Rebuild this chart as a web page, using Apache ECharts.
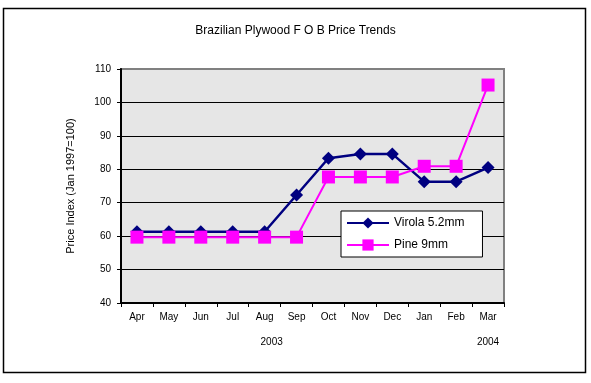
<!DOCTYPE html>
<html><head><meta charset="utf-8">
<script src="https://cdn.jsdelivr.net/npm/echarts@6/dist/echarts.min.js"></script>
<style>html,body{margin:0;padding:0;background:#fff}#c{width:591px;height:383px}</style>
</head><body><div id="c"></div>
<script>
const months = ['Apr','May','Jun','Jul','Aug','Sep','Oct','Nov','Dec','Jan','Feb','Mar'];
const yearLabels = ['','','','','2003','','','','','','','2004'];
const virola = [61.3,61.3,61.3,61.3,61.3,72.3,83.3,84.6,84.6,76.3,76.3,80.5];
const pine = [59.7,59.7,59.7,59.7,59.7,59.7,77.7,77.7,77.7,80.9,80.9,105.2];
const yTicks = {min:40, max:110, interval:10};

const font = 'Liberation Sans, Arial, sans-serif';
const chart = echarts.init(document.getElementById('c'), null, {renderer:'canvas'});
chart.setOption({
  animation:false,
  backgroundColor:'#fff',
  title:{text:'Brazilian Plywood F O B Price Trends', left:'center', top:20,
    textStyle:{fontFamily:font, fontSize:12, fontWeight:'normal', color:'#000'}},
  graphic:[{type:'rect', shape:{x:3.5,y:8.5,width:582,height:364}, style:{fill:null, stroke:'#000', lineWidth:1.5}, silent:true, z:-1}],
  grid:{left:121, right:87, top:69, bottom:80, show:true, backgroundColor:'#e6e6e6', borderColor:'#808080', borderWidth:2},
  legend:{orient:'vertical', left:341, top:211, padding:[6,18,6,5], itemGap:10, itemWidth:42, itemHeight:14,
    backgroundColor:'#fff', borderColor:'#000', borderWidth:1,
    textStyle:{fontFamily:font, fontSize:12, color:'#000'},
    data:['Virola 5.2mm','Pine 9mm']},
  xAxis:[{type:'category', data:months, boundaryGap:true, gridIndex:0,
    axisLine:{lineStyle:{color:'#000', width:2}},
    axisTick:{show:true, length:4, lineStyle:{color:'#000'}, alignWithLabel:false},
    axisLabel:{fontFamily:font, fontSize:10, color:'#000', margin:9, interval:0},
    splitLine:{show:false}},
   {type:'category', data:months, boundaryGap:true, gridIndex:0, position:'bottom',
    axisLine:{show:false}, axisTick:{show:false}, splitLine:{show:false},
    axisLabel:{interval:0, margin:34, fontFamily:font, fontSize:10, color:'#000',
      formatter:(v,i)=> yearLabels[i]==='2003' ? '{a|'+yearLabels[i]+'}' : yearLabels[i],
      rich:{a:{padding:[0,0,0,14], fontFamily:font, fontSize:10, color:'#000'}}}}],
  yAxis:{type:'value', min:yTicks.min, max:yTicks.max, interval:yTicks.interval,
    name:'Price Index (Jan 1997=100)', nameLocation:'middle', nameGap:45,
    nameTextStyle:{fontFamily:font, fontSize:11, color:'#000'},
    axisLine:{show:true, lineStyle:{color:'#000', width:2}},
    axisTick:{show:true, length:4, lineStyle:{color:'#000'}},
    axisLabel:{fontFamily:font, fontSize:10, color:'#000', margin:10},
    splitLine:{show:true, showMaxLine:false, showMinLine:false, lineStyle:{color:'#000', width:1}}},
  series:[
    {name:'Virola 5.2mm', type:'line', data:virola, symbol:'diamond', symbolSize:13,
      lineStyle:{color:'#000080', width:2.5}, itemStyle:{color:'#000080'}, color:'#000080', z:3},
    {name:'Pine 9mm', type:'line', data:pine, symbol:'rect', symbolSize:13,
      lineStyle:{color:'#ff00ff', width:2}, itemStyle:{color:'#ff00ff'}, color:'#ff00ff', z:4}
  ]
});
</script></body></html>
